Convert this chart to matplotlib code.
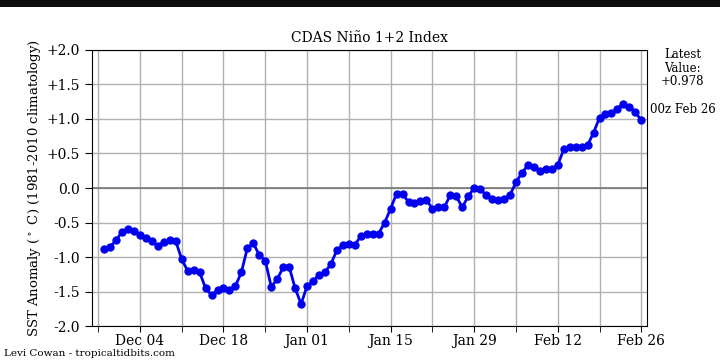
import matplotlib
matplotlib.use("Agg")
import matplotlib.pyplot as plt
import matplotlib.dates as mdates
import matplotlib.ticker as mticker
from matplotlib.patches import Rectangle
import numpy as np
import datetime as dt

plt.rcParams['font.family'] = ['DejaVu Serif']

start_date = dt.date(2022, 11, 28)
values = [-0.88, -0.85, -0.76, -0.63, -0.60, -0.62, -0.68, -0.72, -0.77, -0.84, -0.78, -0.76, -0.77,
          -1.03, -1.20, -1.18, -1.22, -1.45, -1.55, -1.48, -1.45, -1.47, -1.42, -1.22, -0.87, -0.80,
          -0.97, -1.05, -1.43, -1.32, -1.15, -1.14, -1.45, -1.68, -1.42, -1.35, -1.26, -1.22, -1.10,
          -0.90, -0.83, -0.81, -0.82, -0.70, -0.66, -0.67, -0.66, -0.50, -0.30, -0.08, -0.09, -0.20,
          -0.22, -0.19, -0.17, -0.30, -0.27, -0.28, -0.10, -0.12, -0.28, -0.12, 0.00, -0.02, -0.10,
          -0.16, -0.17, -0.16, -0.10, 0.08, 0.22, 0.33, 0.30, 0.24, 0.28, 0.28, 0.33, 0.56, 0.60,
          0.60, 0.60, 0.62, 0.80, 1.02, 1.07, 1.08, 1.15, 1.22, 1.18, 1.10, 0.978]
dates = [start_date + dt.timedelta(days=i) for i in range(len(values))]

title = "CDAS Niño 1+2 Index"
ylabel = "SST Anomaly ($^\\circ$ C) (1981-2010 climatology)"
latest_text = "Latest\nValue:\n+0.978"
time_text = "00z Feb 26"
credit = "Levi Cowan - tropicaltidbits.com"

fig = plt.figure(figsize=(7.2, 3.64), dpi=100)
fig.patches.append(Rectangle((0, 0.98), 1, 0.02, transform=fig.transFigure,
                             facecolor='#0d0d0d', edgecolor='none', zorder=10))
ax = fig.add_axes([0.128, 0.104, 0.771, 0.759])

ax.plot(dates, values, color='#0000ee', linewidth=2, marker='o', markersize=5, zorder=3)
ax.axhline(0, color='#777777', linewidth=1.2, zorder=2)

ax.set_ylim(-2, 2)
ax.set_xlim(dt.date(2022, 11, 26) + dt.timedelta(hours=20), dt.date(2023, 2, 27) + dt.timedelta(hours=5))
ax.yaxis.set_major_locator(mticker.MultipleLocator(0.5))
ax.yaxis.set_major_formatter(mticker.FuncFormatter(lambda v, p: "0.0" if abs(v) < 1e-9 else f"{v:+.1f}"))

major_dates = [dt.date(2022, 12, 4) + dt.timedelta(days=14 * k) for k in range(7)]
minor_dates = [dt.date(2022, 11, 27) + dt.timedelta(days=14 * k) for k in range(7)]
ax.set_xticks(major_dates)
ax.set_xticks(minor_dates, minor=True)
ax.xaxis.set_major_formatter(mdates.DateFormatter('%b %d'))
ax.grid(True, which='both', axis='x', color='#b0b0b0', linewidth=1)
ax.grid(True, which='major', axis='y', color='#b0b0b0', linewidth=1)
ax.set_axisbelow(True)
ax.tick_params(axis='y', which='major', length=5, labelsize=10)
ax.tick_params(axis='x', which='major', length=4, pad=1.5, labelsize=10)
ax.tick_params(axis='x', which='minor', length=4)

ax.set_title(title, fontsize=10, pad=6)
ax.set_ylabel(ylabel, fontsize=9.5, labelpad=3)

fig.text(0.948, 0.868, latest_text, ha='center', va='top', fontsize=8.5, linespacing=1.05)
fig.text(0.948, 0.70, time_text, ha='center', va='center', fontsize=8.5)
fig.text(0.005, 0.030, credit, ha='left', va='center', fontsize=7.5)

fig.savefig("out.png", dpi=100)
